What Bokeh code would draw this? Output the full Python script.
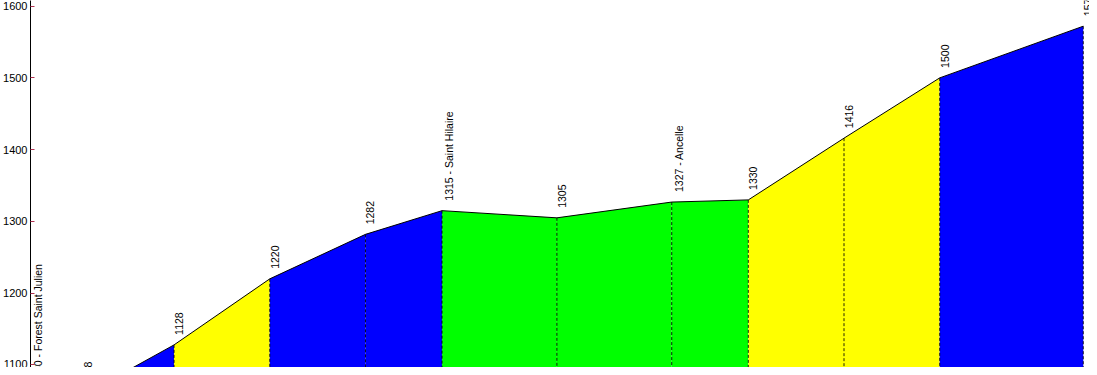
import math
from bokeh.plotting import figure
from bokeh.models import Range1d, FixedTicker, ColumnDataSource
from bokeh.core.properties import value
from bokeh.embed import file_html
from bokeh.resources import INLINE

# ---- data ----
dist_km = [0.0, 1.1, 3.0, 5.0, 7.0, 8.6, 11.0, 13.4, 15.0, 17.0, 19.0, 22.0]
elev_m = [1060, 1058, 1128, 1220, 1282, 1315, 1305, 1327, 1330, 1416, 1500, 1572]
places = ["Forest Saint Julien", "", "", "", "", "Saint Hilaire", "", "Ancelle", "", "", "", ""]
segment_colors = ["#00FF00", "#0000FF", "#FFFF00", "#0000FF", "#0000FF", "#00FF00",
                  "#00FF00", "#00FF00", "#FFFF00", "#FFFF00", "#0000FF"]
y_ticks = [1100, 1200, 1300, 1400, 1500, 1600]
base_level = 1000

labels = [f"{e} - {pl}" if pl else f"{e}" for e, pl in zip(elev_m, places)]

p = figure(width=1089, height=367, output_backend="svg", toolbar_location=None,
           x_range=Range1d(0, 22.13), y_range=Range1d(1096.5, 1607.8),
           x_axis_location=None, min_border_top=0, min_border_bottom=0,
           min_border_right=0, min_border_left=5)
p.outline_line_color = None
p.grid.visible = False
p.background_fill_color = "white"
p.border_fill_color = "white"

# filled segments
xs, ys = [], []
for i in range(len(dist_km) - 1):
    xs.append([dist_km[i], dist_km[i + 1], dist_km[i + 1], dist_km[i]])
    ys.append([elev_m[i], elev_m[i + 1], base_level, base_level])
p.patches(xs, ys, fill_color=segment_colors, line_color=None)

# dashed verticals
p.segment(x0=dist_km, y0=elev_m, x1=dist_km, y1=[base_level] * len(dist_km),
          line_color="black", line_width=1, line_dash="3 2", line_alpha=0.85)

# profile outline
p.line(dist_km, elev_m, line_color="black", line_width=1)

# labels
src = ColumnDataSource(dict(x=dist_km, y=elev_m, t=labels))
p.text(x="x", y="y", text="t", source=src, angle=math.pi / 2,
       text_align="left", text_baseline="top", x_offset=1, y_offset=-10,
       text_font=value("Liberation Sans"), text_font_size="10.5px", text_color="black")

ax = p.yaxis[0]
ax.ticker = FixedTicker(ticks=y_ticks)
ax.axis_line_color = "black"
ax.axis_line_width = 1
ax.major_tick_in = 4
ax.major_tick_out = 0
ax.major_tick_line_color = "#b03050"
ax.minor_tick_line_color = None
ax.major_label_text_font = "Liberation Sans"
ax.major_label_text_font_size = "11px"
ax.major_label_text_color = "black"
ax.major_label_standoff = 3

open("out.html", "w").write(file_html(p, INLINE))
